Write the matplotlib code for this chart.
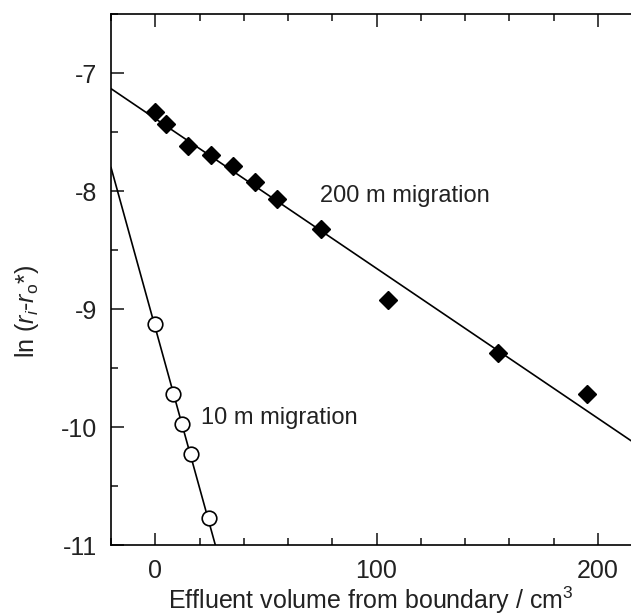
import numpy as np
import matplotlib.pyplot as plt
from matplotlib.ticker import MultipleLocator

plt.rcParams['font.family'] = ['Liberation Sans', 'DejaVu Sans']
plt.rcParams['mathtext.fontset'] = 'custom'
plt.rcParams['mathtext.rm'] = 'Liberation Sans'
plt.rcParams['mathtext.it'] = 'Liberation Sans:italic'

# 200 m migration (filled diamonds)
x_200 = [0, 5, 15, 25, 35, 45, 55, 75, 105, 155, 195]
y_200 = [-7.33, -7.43, -7.62, -7.69, -7.79, -7.92, -8.07, -8.32, -8.92, -9.37, -9.72]
slope_200, icpt_200 = -0.0127, -7.385

# 10 m migration (open circles)
x_10 = [0, 8, 12.2, 16, 24.4]
y_10 = [-9.13, -9.72, -9.97, -10.23, -10.77]
slope_10, icpt_10 = -0.0679, -9.158

fig = plt.figure(figsize=(6.31, 6.15), dpi=100)
ax = fig.add_axes([0.176, 0.1138, 0.824, 0.863])

xx = np.array([-20, 215])
ax.plot(xx, icpt_200 + slope_200 * xx, color='black', lw=1.2, zorder=2)
ax.plot(xx, icpt_10 + slope_10 * xx, color='black', lw=1.2, zorder=2)

ax.plot(x_200, y_200, 'D', color='black', ms=9, zorder=3)
ax.plot(x_10, y_10, 'o', mfc='white', mec='black', mew=1.2, ms=10.5, zorder=3)

ax.text(74.5, -8.04, '200 m migration', fontsize=17, va='center', ha='left',
        color='#222222')
ax.text(20.5, -9.92, '10 m migration', fontsize=17, va='center', ha='left',
        color='#222222')

ax.set_xlim(-20, 215)
ax.set_ylim(-11, -6.5)
ax.xaxis.set_major_locator(MultipleLocator(100))
ax.xaxis.set_minor_locator(MultipleLocator(20))
ax.yaxis.set_major_locator(MultipleLocator(1))
ax.yaxis.set_minor_locator(MultipleLocator(0.5))
ax.tick_params(which='both', direction='in', top=True, right=False, width=1.2,
               labelsize=18, colors='#222222')
ax.tick_params(which='major', length=9, pad=10)
ax.tick_params(which='minor', length=5)
ax.spines['right'].set_visible(False)
for s in ['left', 'top', 'bottom']:
    ax.spines[s].set_linewidth(1.2)

ax.set_yticks([-7, -8, -9, -10, -11])
ax.set_yticklabels(['-7', '-8', '-9', '-10', '-11'])
ax.set_xticks([0, 100, 200])
ax.set_xticklabels(['0', '100', '200'])

ax.set_xlabel('Effluent volume from boundary / cm$^3$', fontsize=18, labelpad=1,
              color='#222222')
ax.set_ylabel(r'ln ($r_i$-$r_{\rm o}$*)', fontsize=18, color='#222222')
ax.yaxis.set_label_coords(-0.135, 0.44)

fig.savefig('out.png', dpi=100)
